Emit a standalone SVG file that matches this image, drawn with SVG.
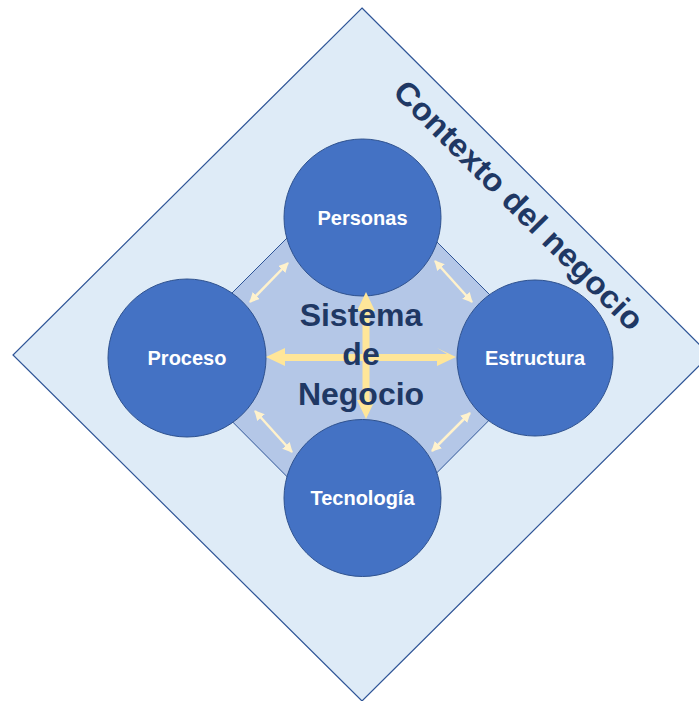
<svg xmlns="http://www.w3.org/2000/svg" width="699" height="701" viewBox="0 0 699 701">
<style>
.node circle{fill:#4472C4;stroke:#2F528F;stroke-width:1}
.node text{font-family:"Liberation Sans",Arial,sans-serif;font-weight:bold;font-size:20px;fill:#FFFFFF;text-anchor:middle}
.big{font-family:"Liberation Sans",Arial,sans-serif;font-weight:bold;fill:#1F3864;text-anchor:middle}
.thin{stroke:#FFF2CC;stroke-width:2.5;fill:none;marker-start:url(#sm);marker-end:url(#sm)}
</style>
<defs>
<marker id="sm" viewBox="0 0 10 10" refX="9" refY="5" markerWidth="4" markerHeight="4" orient="auto-start-reverse" markerUnits="strokeWidth">
<path d="M0,0 L10,5 L0,10 Z" fill="#FFF2CC"/>
</marker>
</defs>
<g id="contexto">
<polygon points="362,8 710,355 362,701 13,355" fill="#DEEBF7" stroke="#2F5597" stroke-width="1.2"/>
<text class="big" font-size="32" transform="translate(511,213) rotate(45)" textLength="338" lengthAdjust="spacingAndGlyphs">Contexto del negocio</text>
</g>
<g id="sistema">
<polygon points="360,165 552,357 360,550 168,357" fill="#B4C7E7" stroke="#2F5597" stroke-width="1"/>
</g>
<g id="connectors">
<line class="thin" x1="250" y1="302" x2="288" y2="263"/>
<line class="thin" x1="435" y1="261" x2="472" y2="302"/>
<line class="thin" x1="255" y1="411" x2="292" y2="452"/>
<line class="thin" x1="432" y1="451" x2="470" y2="413"/>
</g>
<g id="personas" class="node"><circle cx="362.5" cy="217.5" r="78.5"/><text x="362.5" y="225">Personas</text></g>
<g id="proceso" class="node"><circle cx="187" cy="358" r="79"/><text x="187" y="365">Proceso</text></g>
<g id="estructura" class="node"><circle cx="535" cy="358" r="78"/><text x="535" y="365">Estructura</text></g>
<g id="tecnologia" class="node"><circle cx="362.5" cy="498" r="78.5"/><text x="362.5" y="505">Tecnología</text></g>
<g id="main-arrows" fill="#FFE699">
<polygon points="266,357 285,348 285,354 447,354 437,348 456,357 437,366 437,361 285,361 285,366"/>
<polygon points="366,292 375,311 369.5,311 369.5,400 375,400 366,419 357,400 362.5,400 362.5,311 357,311"/>
</g>
<g id="label-sistema" class="big" font-size="32">
<text x="361" y="326">Sistema</text>
<text x="361" y="365">de</text>
<text x="361" y="405">Negocio</text>
</g>
</svg>
